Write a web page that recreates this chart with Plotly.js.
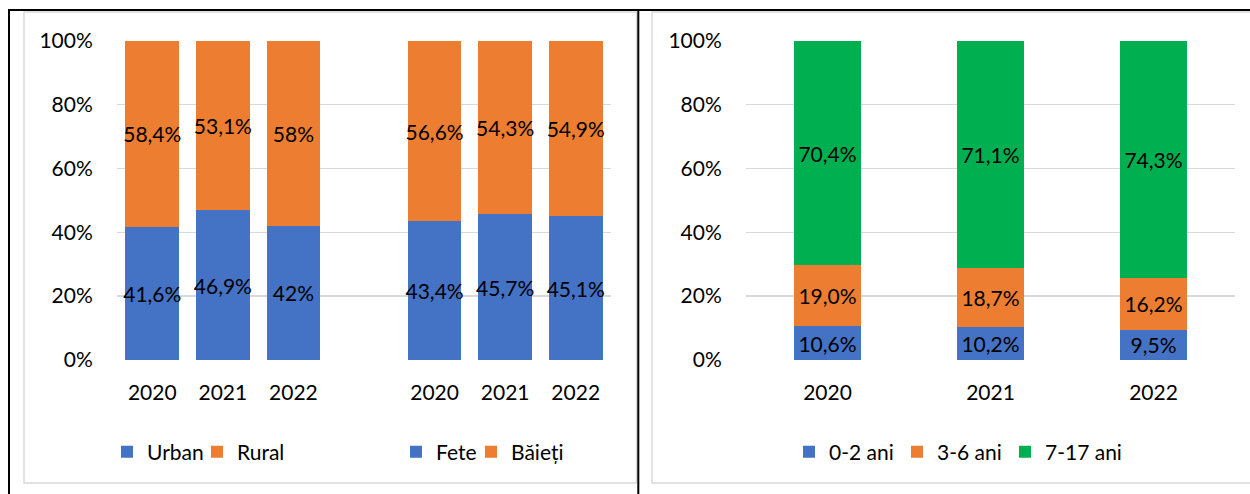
<!DOCTYPE html>
<html><head><meta charset="utf-8">
<script src="https://cdn.plot.ly/plotly-3.0.1.min.js"></script>
<style>html,body{margin:0;padding:0;background:#fff}#chart{width:1250px;height:494px}</style>
</head><body><div id="chart"></div>
<script>
// ---- data ----
const leftYears = ['2020', '2021', '2022'];
const urban = [41.6, 46.9, 42];
const rural = [58.4, 53.1, 58];
const fete = [43.4, 45.7, 45.1];
const baieti = [56.6, 54.3, 54.9];
const rightYears = ['2020', '2021', '2022'];
const age02 = [10.6, 10.2, 9.5];
const age36 = [19.0, 18.7, 16.2];
const age717 = [70.4, 71.1, 74.3];
const yTicks = [0, 20, 40, 60, 80, 100];

// ---- styling ----
const W = 1250, H = 494;
const px = x => x / W;
const py = y => 1 - y / H;
const FONT = 'Lato, "Open Sans", sans-serif';
const FS = 21;
const BLUE = '#4472C4', ORANGE = '#ED7D31', GREEN = '#00B050';
const GRID = '#D9D9D9';

const fmtL = v => String(v).replace('.', ',') + '%';
const fmtR = v => v.toFixed(1).replace('.', ',') + '%';

const pos1 = leftYears.map((_, i) => i);
const pos2 = leftYears.map((_, i) => i + leftYears.length + 1);

function bar(x, y, name, color, fmt, xa, ya, legend, width, lw) {
  const t = {
    type: 'bar', x: x, y: y, name: name, xaxis: xa, yaxis: ya, legend: legend,
    width: width,
    marker: { color: color, line: { width: 0 } },
    text: y.map(fmt), textposition: 'inside', insidetextanchor: 'middle',
    textangle: 0, constraintext: 'none',
    insidetextfont: { color: '#000', size: FS, family: FONT },
    hoverinfo: 'skip'
  };
  if (lw) t.legendwidth = lw;
  return t;
}

const data = [
  bar(pos1, urban, 'Urban', BLUE, fmtL, 'x', 'y', 'legend', 0.76, 45),
  bar(pos1, rural, 'Rural', ORANGE, fmtL, 'x', 'y', 'legend', 0.76),
  bar(pos2, fete, 'Fete', BLUE, fmtL, 'x', 'y', 'legend2', 0.76, 30),
  bar(pos2, baieti, 'Băieți', ORANGE, fmtL, 'x', 'y', 'legend2', 0.76),
  bar(rightYears, age02, '0-2 ani', BLUE, fmtR, 'x2', 'y2', 'legend3', 0.405, 63),
  bar(rightYears, age36, '3-6 ani', ORANGE, fmtR, 'x2', 'y2', 'legend3', 0.405, 63),
  bar(rightYears, age717, '7-17 ani', GREEN, fmtR, 'x2', 'y2', 'legend3', 0.405)
];

const yAxisBase = {
  range: [0, 100], tickvals: yTicks, ticktext: yTicks.map(v => v + '%'),
  showgrid: true, gridcolor: GRID, gridwidth: 1.5, zeroline: false, showline: false,
  ticks: 'outside', ticklen: 19, tickcolor: 'rgba(0,0,0,0)',
  tickfont: { size: FS, family: FONT, color: '#000' }, fixedrange: true
};
const xAxisBase = {
  showgrid: false, zeroline: false, showline: false,
  ticks: 'outside', ticklen: 14, tickcolor: 'rgba(0,0,0,0)',
  tickfont: { size: FS, family: FONT, color: '#000' }, fixedrange: true
};

const legendBase = {
  orientation: 'h', xanchor: 'left', yanchor: 'middle', y: py(452),
  font: { size: FS, family: FONT, color: '#000' }, bgcolor: 'rgba(0,0,0,0)',
  traceorder: 'normal', itemclick: false, itemdoubleclick: false
};

const layout = {
  width: W, height: H,
  margin: { l: 0, r: 0, t: 0, b: 0 },
  paper_bgcolor: '#fff', plot_bgcolor: 'rgba(0,0,0,0)',
  barmode: 'stack',
  showlegend: true,
  font: { family: FONT, size: FS, color: '#000' },
  xaxis: Object.assign({}, xAxisBase, {
    domain: [px(117), px(611)], range: [-0.5, 6.5],
    tickvals: pos1.concat(pos2), ticktext: leftYears.concat(leftYears), anchor: 'y'
  }),
  yaxis: Object.assign({}, yAxisBase, { domain: [py(360), py(40.7)], anchor: 'x' }),
  xaxis2: Object.assign({}, xAxisBase, {
    domain: [px(746), px(1235)], type: 'category', anchor: 'y2'
  }),
  yaxis2: Object.assign({}, yAxisBase, { domain: [py(360), py(40.7)], anchor: 'x2' }),
  legend: Object.assign({}, legendBase, { x: px(107) }),
  legend2: Object.assign({}, legendBase, { x: px(396) }),
  legend3: Object.assign({}, legendBase, { x: px(789) }),
  shapes: [
    // light chart-area borders
    { type: 'rect', xref: 'paper', yref: 'paper', x0: px(24), x1: px(636.5), y0: py(483), y1: py(12),
      line: { color: GRID, width: 1.5 }, fillcolor: 'rgba(0,0,0,0)', layer: 'below' },
    { type: 'rect', xref: 'paper', yref: 'paper', x0: px(652), x1: px(1262), y0: py(483), y1: py(12),
      line: { color: GRID, width: 1.5 }, fillcolor: 'rgba(0,0,0,0)', layer: 'below' },
    // black frame lines
    { type: 'line', xref: 'paper', yref: 'paper', x0: px(8), x1: px(1252), y0: py(10), y1: py(10),
      line: { color: '#000', width: 2 } },
    { type: 'line', xref: 'paper', yref: 'paper', x0: px(9), x1: px(9), y0: py(10), y1: py(496),
      line: { color: '#000', width: 2 } },
    { type: 'line', xref: 'paper', yref: 'paper', x0: px(638.3), x1: px(638.3), y0: py(10), y1: py(496),
      line: { color: '#000', width: 2 } }
  ]
};

Plotly.newPlot('chart', data, layout, { displayModeBar: false, staticPlot: true });
</script>
</body></html>
